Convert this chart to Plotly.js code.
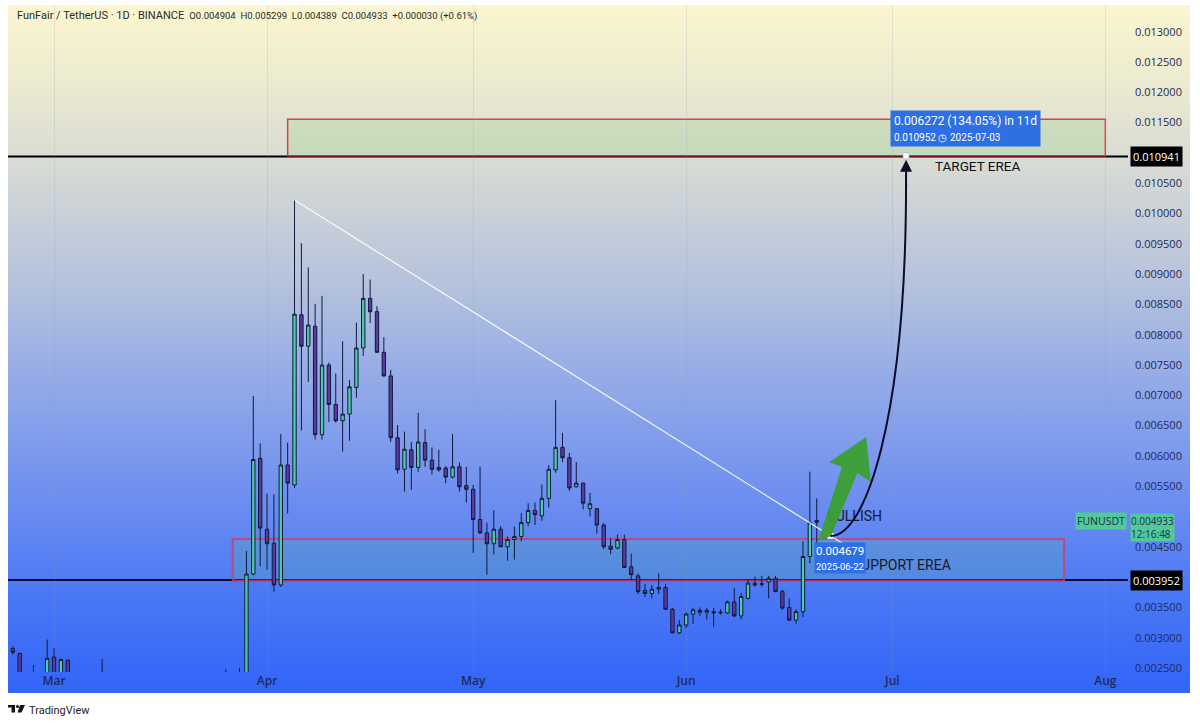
<!DOCTYPE html>
<html>
<head>
<meta charset="utf-8">
<script src="https://cdn.plot.ly/plotly-3.0.1.min.js"></script>
<style>
html,body{margin:0;padding:0;background:#ffffff;width:1200px;height:723px;overflow:hidden;}
#bg{position:absolute;left:8px;top:5px;width:1182px;height:688px;
background:linear-gradient(to bottom,#fbf6cf 0%,#eeecd0 10%,#dadcd4 22%,#b6c3dc 40%,#9aafe6 52%,#6c8ef0 72%,#4a77f5 86%,#3265f8 100%);}
#chart{position:absolute;left:0;top:0;width:1200px;height:723px;}
</style>
</head>
<body>
<div id="bg"></div>
<div id="chart"></div>
<script>
// ---- candle data (FUNUSDT, 1D) ----
const dates = ['2025-02-23','2025-02-24','2025-02-26','2025-02-28','2025-03-01','2025-03-02','2025-03-03','2025-03-08','2025-03-26','2025-03-28',
'2025-03-29','2025-03-30','2025-03-31','2025-04-01','2025-04-02','2025-04-03','2025-04-04','2025-04-05','2025-04-06','2025-04-07',
'2025-04-08','2025-04-09','2025-04-10','2025-04-11','2025-04-12','2025-04-13','2025-04-14','2025-04-15','2025-04-16','2025-04-17',
'2025-04-18','2025-04-19','2025-04-20','2025-04-21','2025-04-22','2025-04-23','2025-04-24','2025-04-25','2025-04-26','2025-04-27',
'2025-04-28','2025-04-29','2025-04-30','2025-05-01','2025-05-02','2025-05-03','2025-05-04','2025-05-05','2025-05-06','2025-05-07',
'2025-05-08','2025-05-09','2025-05-10','2025-05-11','2025-05-12','2025-05-13','2025-05-14','2025-05-15','2025-05-16','2025-05-17',
'2025-05-18','2025-05-19','2025-05-20','2025-05-21','2025-05-22','2025-05-23','2025-05-24','2025-05-25','2025-05-26','2025-05-27',
'2025-05-28','2025-05-29','2025-05-30','2025-05-31','2025-06-01','2025-06-02','2025-06-03','2025-06-04','2025-06-05','2025-06-06',
'2025-06-07','2025-06-08','2025-06-09','2025-06-10','2025-06-11','2025-06-12','2025-06-13','2025-06-14','2025-06-15','2025-06-16',
'2025-06-17','2025-06-18','2025-06-19','2025-06-20'];
const openP = [0.00282,0.00274,0.00232,0.00230,0.00268,0.00232,0.00263,0.00232,0.00222,0.00222,
0.00232,0.00405,0.00596,0.00479,0.00456,0.00387,0.00585,0.00552,0.00833,0.00781,
0.00814,0.00635,0.00750,0.00685,0.00658,0.00669,0.00713,0.00778,0.00860,0.00838,
0.00771,0.00732,0.00630,0.00578,0.00610,0.00581,0.00622,0.00593,0.00581,0.00580,
0.00565,0.00582,0.00551,0.00545,0.00495,0.00473,0.00455,0.00479,0.00450,0.00462,
0.00467,0.00490,0.00510,0.00501,0.00530,0.00577,0.00614,0.00597,0.00549,0.00555,
0.00513,0.00513,0.00486,0.00451,0.00448,0.00462,0.00417,0.00402,0.00378,0.00373,
0.00380,0.00383,0.00347,0.00308,0.00321,0.00339,0.00345,0.00342,0.00343,0.00341,
0.00341,0.00359,0.00336,0.00365,0.00390,0.00388,0.00392,0.00398,0.00376,0.00350,
0.00329,0.00343,0.00434,0.004904];
const highP = [0.00286,0.00275,0.00255,0.00297,0.00283,0.00266,0.00264,0.00265,0.00248,0.00250,
0.00443,0.00699,0.00621,0.00538,0.00537,0.00636,0.00622,0.01022,0.00951,0.00911,
0.00851,0.00864,0.00754,0.00736,0.00789,0.00725,0.00820,0.00900,0.00891,0.00847,
0.00796,0.00742,0.00651,0.00640,0.00623,0.00671,0.00644,0.00614,0.00610,0.00583,
0.00636,0.00589,0.00582,0.00552,0.00582,0.00490,0.00510,0.00484,0.00467,0.00483,
0.00506,0.00522,0.00523,0.00553,0.00585,0.00692,0.00638,0.00605,0.00590,0.00556,
0.00539,0.00513,0.00489,0.00464,0.00470,0.00470,0.00439,0.00406,0.00389,0.00387,
0.00406,0.00389,0.00349,0.00329,0.00341,0.00349,0.00350,0.00349,0.00349,0.00347,
0.00361,0.00382,0.00374,0.00396,0.00401,0.00402,0.00402,0.00402,0.00379,0.00365,
0.00347,0.00459,0.00574,0.005299];
const lowP = [0.00272,0.00222,0.00215,0.00224,0.00222,0.00224,0.00222,0.00215,0.00210,0.00212,
0.00228,0.00403,0.00418,0.00412,0.00376,0.00384,0.00505,0.00547,0.00642,0.00722,
0.00627,0.00627,0.00656,0.00655,0.00607,0.00625,0.00696,0.00765,0.00819,0.00770,
0.00731,0.00623,0.00571,0.00541,0.00544,0.00574,0.00582,0.00569,0.00574,0.00555,
0.00563,0.00541,0.00523,0.00440,0.00471,0.00404,0.00437,0.00450,0.00427,0.00429,
0.00459,0.00484,0.00486,0.00493,0.00515,0.00572,0.00590,0.00542,0.00548,0.00512,
0.00500,0.00472,0.00446,0.00438,0.00446,0.00415,0.00395,0.00372,0.00367,0.00365,
0.00372,0.00346,0.00307,0.00306,0.00316,0.00323,0.00336,0.00330,0.00318,0.00338,
0.00340,0.00334,0.00330,0.00363,0.00384,0.00384,0.00365,0.00376,0.00346,0.00328,
0.00323,0.00334,0.00423,0.004389];
const closeP = [0.00276,0.00228,0.00225,0.00266,0.00232,0.00264,0.00228,0.00225,0.00216,0.00230,
0.00405,0.00594,0.00481,0.00455,0.00387,0.00585,0.00555,0.00834,0.00781,0.00816,
0.00635,0.00750,0.00685,0.00658,0.00669,0.00714,0.00778,0.00860,0.00838,0.00771,
0.00732,0.00630,0.00577,0.00611,0.00581,0.00623,0.00593,0.00578,0.00577,0.00565,
0.00582,0.00549,0.00545,0.00495,0.00473,0.00455,0.00479,0.00450,0.00462,0.00467,
0.00490,0.00510,0.00503,0.00530,0.00578,0.00614,0.00597,0.00547,0.00555,0.00522,
0.00521,0.00486,0.00450,0.00446,0.00462,0.00416,0.00404,0.00376,0.00373,0.00380,
0.00383,0.00347,0.00308,0.00321,0.00339,0.00346,0.00342,0.00345,0.00341,0.00342,
0.00359,0.00336,0.00368,0.00390,0.00387,0.00389,0.00398,0.00376,0.00349,0.00329,
0.00343,0.00434,0.00490,0.004933];

// ---- axes ----
const monthTicks = ['2025-03-01','2025-04-01','2025-05-01','2025-06-01','2025-07-01','2025-08-01'];
const monthLabels = ['Mar','Apr','May','Jun','Jul','Aug'];
const priceTicks = [0.0025,0.003,0.0035,0.0045,0.0055,0.006,0.0065,0.007,0.0075,0.008,0.0085,0.009,0.0095,0.010,0.0105,0.0115,0.012,0.0125,0.013];

// ---- drawing objects ----
const trendDates = ['2025-04-05','2025-06-24 10:00'];
const trendValues = [0.010223,0.00451];
const touchDate = '2025-06-22';
const touchValue = 0.004679;
const targetDate = '2025-07-03';
const targetValue = 0.010952;
const targetLevel = 0.010941;
const supportLevel = 0.003952;
const lastPrice = 0.004933;
const targetZone = {x0:'2025-04-04', x1:'2025-08-01', y0:0.010955, y1:0.011556};
const supportZone = {x0:'2025-03-27', x1:'2025-07-26', y0:0.003937, y1:0.004629};

const fmt = v => v.toFixed(6);
const drawFont = "Roboto, 'Noto Sans', sans-serif";
const uiFont = "Roboto, 'Noto Sans', sans-serif";

const traces = [
  {type:'candlestick', x:dates, open:openP, high:highP, low:lowP, close:closeP,
   increasing:{line:{color:'#101a3c',width:1}, fillcolor:'#4fcaa8'},
   decreasing:{line:{color:'#101a3c',width:1}, fillcolor:'#5b3a9e'},
   whiskerwidth:0, hoverinfo:'skip'},
  {type:'scatter', mode:'lines', x:trendDates, y:trendValues, line:{color:'rgba(255,255,255,0.92)', width:1.2}, hoverinfo:'skip'},
  {type:'scatter', mode:'text', x:['2025-06-21 12:00'], y:[0.004985], text:['BULLISH'], textposition:'middle right',
   textfont:{family:drawFont, size:14, color:'#141a2e'}, cliponaxis:false, hoverinfo:'skip'},
  {type:'scatter', mode:'text', x:['2025-06-25 06:00'], y:[0.004170], text:['SUPPORT EREA'], textposition:'middle right',
   textfont:{family:drawFont, size:14, color:'#141a2e'}, cliponaxis:false, hoverinfo:'skip'},
  {type:'scatter', mode:'markers', x:[touchDate, targetDate], y:[touchValue, targetValue],
   marker:{symbol:'square', size:6, color:'#ffffff', line:{color:'#7fa0e8', width:0.5}}, hoverinfo:'skip', cliponaxis:false}
];

const shapes = [
  {type:'line', xref:'paper', x0:0, x1:1, yref:'y', y0:targetLevel, y1:targetLevel, line:{color:'#000000', width:2}, layer:'below'},
  {type:'line', xref:'paper', x0:0, x1:1, yref:'y', y0:supportLevel, y1:supportLevel, line:{color:'#050a30', width:2}, layer:'below'},
  {type:'rect', xref:'x', yref:'y', x0:targetZone.x0, x1:targetZone.x1, y0:targetZone.y0, y1:targetZone.y1,
   line:{color:'rgba(225,45,55,0.9)', width:1.5}, fillcolor:'rgba(140,205,125,0.24)', layer:'below'},
  {type:'rect', xref:'x', yref:'y', x0:supportZone.x0, x1:supportZone.x1, y0:supportZone.y0, y1:supportZone.y1,
   line:{color:'rgba(215,55,105,0.8)', width:2}, fillcolor:'rgba(95,185,150,0.22)', layer:'below'},
  // green arrow
  {type:'path', xref:'x', yref:'y', layer:'above',
   path:'M2025-06-20_05:00,0.004596 L2025-06-22_02:00,0.004678 L2025-06-25_22:00,0.005718 L2025-06-27_21:00,0.005570 L2025-06-27_05:00,0.006312 L2025-06-21_20:00,0.005900 L2025-06-23_16:00,0.005817 Z',
   fillcolor:'rgba(58,160,48,0.95)', line:{width:0}},
  // projection curve
  {type:'path', xref:'x', yref:'y', layer:'above',
   path:'M2025-06-22,0.004679 C2025-06-27_01:00,0.004662 2025-07-03,0.0066 2025-07-03,0.0105',
   line:{color:'#0a0c28', width:2}},
  // TradingView logo
  {type:'rect', xref:'paper', yref:'paper', xsizemode:'pixel', ysizemode:'pixel', xanchor:0, yanchor:0,
   x0:0, x1:7, y0:-33, y1:-35.5, fillcolor:'#131722', line:{width:0}},
  {type:'rect', xref:'paper', yref:'paper', xsizemode:'pixel', ysizemode:'pixel', xanchor:0, yanchor:0,
   x0:3.5, x1:7, y0:-33, y1:-40.5, fillcolor:'#131722', line:{width:0}},
  {type:'circle', xref:'paper', yref:'paper', xsizemode:'pixel', ysizemode:'pixel', xanchor:0, yanchor:0,
   x0:8, x1:11, y0:-33, y1:-36, fillcolor:'#131722', line:{width:0}},
  {type:'path', xref:'paper', yref:'paper', xsizemode:'pixel', ysizemode:'pixel', xanchor:0, yanchor:0,
   path:'M12,-33 L17,-33 L13.5,-40.5 L9.5,-40.5 Z', fillcolor:'#131722', line:{width:0}}
];

const annotations = [
  {xref:'paper', yref:'paper', x:0, y:1, xanchor:'left', yanchor:'middle', xshift:7, yshift:-10, showarrow:false,
   text:'FunFair / TetherUS · 1D · BINANCE <span style="font-size:9.5px">\u00a0O0.004904\u00a0\u00a0H0.005299\u00a0\u00a0L0.004389\u00a0\u00a0C0.004933\u00a0\u00a0+0.000030 (+0.61%)</span>',
   font:{family:uiFont, size:11, color:'#2a2a2a'}},
  {xref:'paper', yref:'paper', x:0, y:0, xanchor:'left', yanchor:'middle', xshift:19, yshift:-38, showarrow:false,
   text:'TradingView', font:{family:uiFont, size:11, color:'#1e1e1e'}},
  {xref:'x', yref:'y', x:'2025-07-13 08:00', y:0.01078, showarrow:false, text:'TARGET EREA',
   font:{family:drawFont, size:13.5, color:'#111111'}},
  // projection arrowhead
  {xref:'x', yref:'y', x:targetDate, y:targetValue, axref:'x', ayref:'y', ax:targetDate, ay:0.0104, text:'',
   showarrow:true, arrowhead:2, arrowsize:1.2, arrowwidth:2, arrowcolor:'#0a0c28', standoff:4},
  // measure labels
  {xref:'x', yref:'y', x:targetDate, y:targetValue, xanchor:'left', yanchor:'bottom', xshift:-16, yshift:9, showarrow:false, align:'left',
   text:'0.006272 (134.05%) in 11d<br><span style="font-size:10px">0.010952 ◷ 2025-07-03</span>',
   font:{family:uiFont, size:12, color:'#ffffff'}, bgcolor:'#2e6fe4', borderpad:3},
  {xref:'x', yref:'y', x:touchDate, y:touchValue, xanchor:'left', yanchor:'top', xshift:-16, yshift:-6, showarrow:false, align:'left',
   text:'0.004679<br><span style="font-size:9.5px">2025-06-22</span>',
   font:{family:uiFont, size:11.5, color:'#ffffff'}, bgcolor:'#2e6fe4', borderpad:1},
  // axis price labels
  {xref:'paper', yref:'y', x:1, y:targetLevel, xanchor:'left', yanchor:'middle', xshift:2, showarrow:false,
   text:fmt(targetLevel), font:{family:"'Open Sans'", size:11, color:'#ffffff'}, bgcolor:'#000000', borderpad:2},
  {xref:'paper', yref:'y', x:1, y:supportLevel, xanchor:'left', yanchor:'middle', xshift:2, showarrow:false,
   text:fmt(supportLevel), font:{family:"'Open Sans'", size:11, color:'#ffffff'}, bgcolor:'#000000', borderpad:2},
  {xref:'paper', yref:'y', x:1, y:lastPrice, xanchor:'right', yanchor:'middle', xshift:-1, showarrow:false,
   text:'FUNUSDT', font:{family:"'Open Sans'", size:10.5, color:'#17304a'}, bgcolor:'#52c99a', borderpad:1},
  {xref:'paper', yref:'y', x:1, y:lastPrice, xanchor:'left', yanchor:'top', xshift:2, yshift:7.5, showarrow:false, align:'left',
   text:fmt(lastPrice)+'<br>12:16:48', font:{family:"'Open Sans'", size:10, color:'#17304a'}, bgcolor:'#52c99a', borderpad:0}
];

const layout = {
  width:1200, height:723,
  margin:{l:8, r:72, t:5, b:51},
  paper_bgcolor:'rgba(0,0,0,0)', plot_bgcolor:'rgba(0,0,0,0)',
  showlegend:false, hovermode:false, dragmode:false,
  xaxis:{type:'date', range:['2025-02-22 07:12','2025-08-04 07:12'], rangeslider:{visible:false},
    tickvals:monthTicks, ticktext:monthLabels, showgrid:true, gridcolor:'rgba(140,150,185,0.2)', gridwidth:1,
    zeroline:false, showline:false, ticks:'', tickfont:{family:"'Open Sans'", size:12, color:'#1d2a58', weight:600}, fixedrange:true},
  yaxis:{side:'right', range:[0.002434,0.013441], tickvals:priceTicks, ticktext:priceTicks.map(fmt),
    showgrid:false, zeroline:false, showline:false, ticks:'', ticklabelstandoff:6,
    tickfont:{family:"'Open Sans'", size:11, color:'#1d2a58'}, fixedrange:true},
  shapes:shapes, annotations:annotations
};

Plotly.newPlot('chart', traces, layout, {displayModeBar:false, staticPlot:true});
</script>
</body>
</html>
